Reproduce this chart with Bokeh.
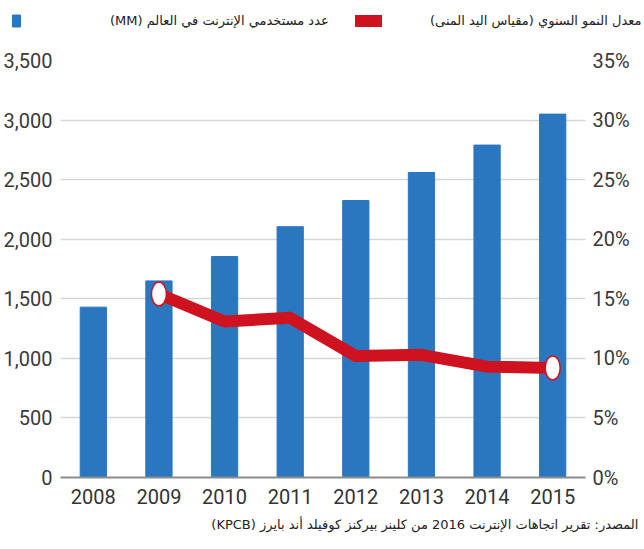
from bokeh.plotting import figure
from bokeh.layouts import column
from bokeh.models import (Range1d, LinearAxis, FactorRange, Legend, LegendItem, Title,
                          NumeralTickFormatter, FixedTicker, PrintfTickFormatter)
from bokeh.embed import file_html
from bokeh.resources import INLINE

# ---- data ----
years = ["2008", "2009", "2010", "2011", "2012", "2013", "2014", "2015"]
users_mm = [1430, 1650, 1855, 2105, 2325, 2560, 2790, 3050]
growth_years = ["2009", "2010", "2011", "2012", "2013", "2014", "2015"]
growth_pct = [15.4, 13.1, 13.4, 10.2, 10.3, 9.3, 9.2]
left_ticks = [0, 500, 1000, 1500, 2000, 2500, 3000, 3500]
right_ticks = [0, 5, 10, 15, 20, 25, 30, 35]
label_users = "(MM) عدد مستخدمي الإنترنت في العالم"
label_growth = "معدل النمو السنوي (مقياس اليد المنى)"
source_text = "\u202bالمصدر: تقرير اتجاهات الإنترنت 2016 من كلينر بيركنز كوفيلد أند بايرز  (KPCB)\u202c"

NUM_FONT = "Roboto"
AR_FONT = "DejaVu Sans"
BLUE = "#2a77c0"
RED = "#cf1220"

# ---------- header (legend) ----------
head = figure(width=644, height=40, x_range=Range1d(0, 644), y_range=Range1d(0, 40),
              output_backend="svg", toolbar_location=None,
              x_axis_location=None, y_axis_location=None,
              min_border=0, min_border_left=0, min_border_right=0,
              min_border_top=0, min_border_bottom=0)
head.frame_align = False
head.outline_line_color = None
head.xgrid.grid_line_color = None
head.ygrid.grid_line_color = None
# zero-size swatch renderers that only carry the legend styles
sw_bar = head.vbar(x=[0], top=[0], width=0, color=BLUE)
sw_line = head.line(x=[0], y=[0], line_width=12, color=RED, line_cap="round")

leg1 = Legend(items=[LegendItem(label=label_users, renderers=[sw_bar])],
              location=(11, 10), glyph_width=10, glyph_height=15, label_standoff=89,
              padding=0, margin=0, border_line_color=None, background_fill_alpha=0,
              label_text_font=AR_FONT, label_text_font_size="13px",
              label_text_color="#222222", label_height=20)
leg2 = Legend(items=[LegendItem(label=label_growth, renderers=[sw_line])],
              location=(355, 10), glyph_width=27, glyph_height=15, label_standoff=48,
              padding=0, margin=0, border_line_color=None, background_fill_alpha=0,
              label_text_font=AR_FONT, label_text_font_size="13px",
              label_text_color="#222222", label_height=20)
head.add_layout(leg1)
head.add_layout(leg2)

# ---------- main chart ----------
p = figure(width=644, height=509, x_range=FactorRange(*years),
           y_range=Range1d(0, 3500), output_backend="svg", toolbar_location=None,
           min_border_left=60, min_border_right=59, min_border_top=20, min_border_bottom=72)
p.frame_align = False
p.extra_y_ranges = {"pct": Range1d(0, 35)}
p.outline_line_color = None

bars = p.vbar(x=years, top=users_mm, width=0.4, color=BLUE)
line = p.line(x=growth_years, y=growth_pct, y_range_name="pct", line_width=12,
              color=RED, line_join="round", line_cap="round")
p.ellipse(x=[growth_years[0], growth_years[-1]], y=[growth_pct[0], growth_pct[-1]],
          width=15, height=24, width_units="screen", height_units="screen",
          fill_color="white", line_color=RED, line_width=1.5, y_range_name="pct")

ya = p.yaxis[0]
ya.ticker = FixedTicker(ticks=left_ticks)
ya.formatter = NumeralTickFormatter(format="0,0")
ya.axis_line_color = None
ya.major_tick_line_color = None
ya.minor_tick_line_color = None
ya.major_tick_out = 0
ya.major_label_standoff = 8
ya.major_label_text_font = NUM_FONT
ya.major_label_text_font_size = "20px"
ya.major_label_text_color = "#3a3a3a"

ra = LinearAxis(y_range_name="pct", ticker=FixedTicker(ticks=right_ticks),
                formatter=PrintfTickFormatter(format="%d%%"))
ra.axis_line_color = None
ra.major_tick_line_color = None
ra.minor_tick_line_color = None
ra.major_tick_out = 0
ra.major_label_standoff = 7
ra.major_label_text_font = NUM_FONT
ra.major_label_text_font_size = "20px"
ra.major_label_text_color = "#3a3a3a"
p.add_layout(ra, "right")

xa = p.xaxis[0]
xa.axis_line_color = "#8c8c8c"
xa.axis_line_width = 2
xa.major_tick_line_color = None
xa.major_tick_out = 0
xa.major_label_standoff = 11
xa.major_label_text_font = NUM_FONT
xa.major_label_text_font_size = "20px"
xa.major_label_text_color = "#333333"

p.xgrid.grid_line_color = None
p.ygrid.ticker = FixedTicker(ticks=left_ticks)
p.ygrid.grid_line_color = "#d6d6d6"
p.ygrid.grid_line_width = 1.5

src = Title(text=source_text, align="right", offset=-57, standoff=17,
            text_font=AR_FONT, text_font_size="13px", text_font_style="normal",
            text_color="#222222")
p.add_layout(src, "below")

layout = column(head, p, spacing=0)
open("out.html", "w").write(file_html(layout, INLINE))
